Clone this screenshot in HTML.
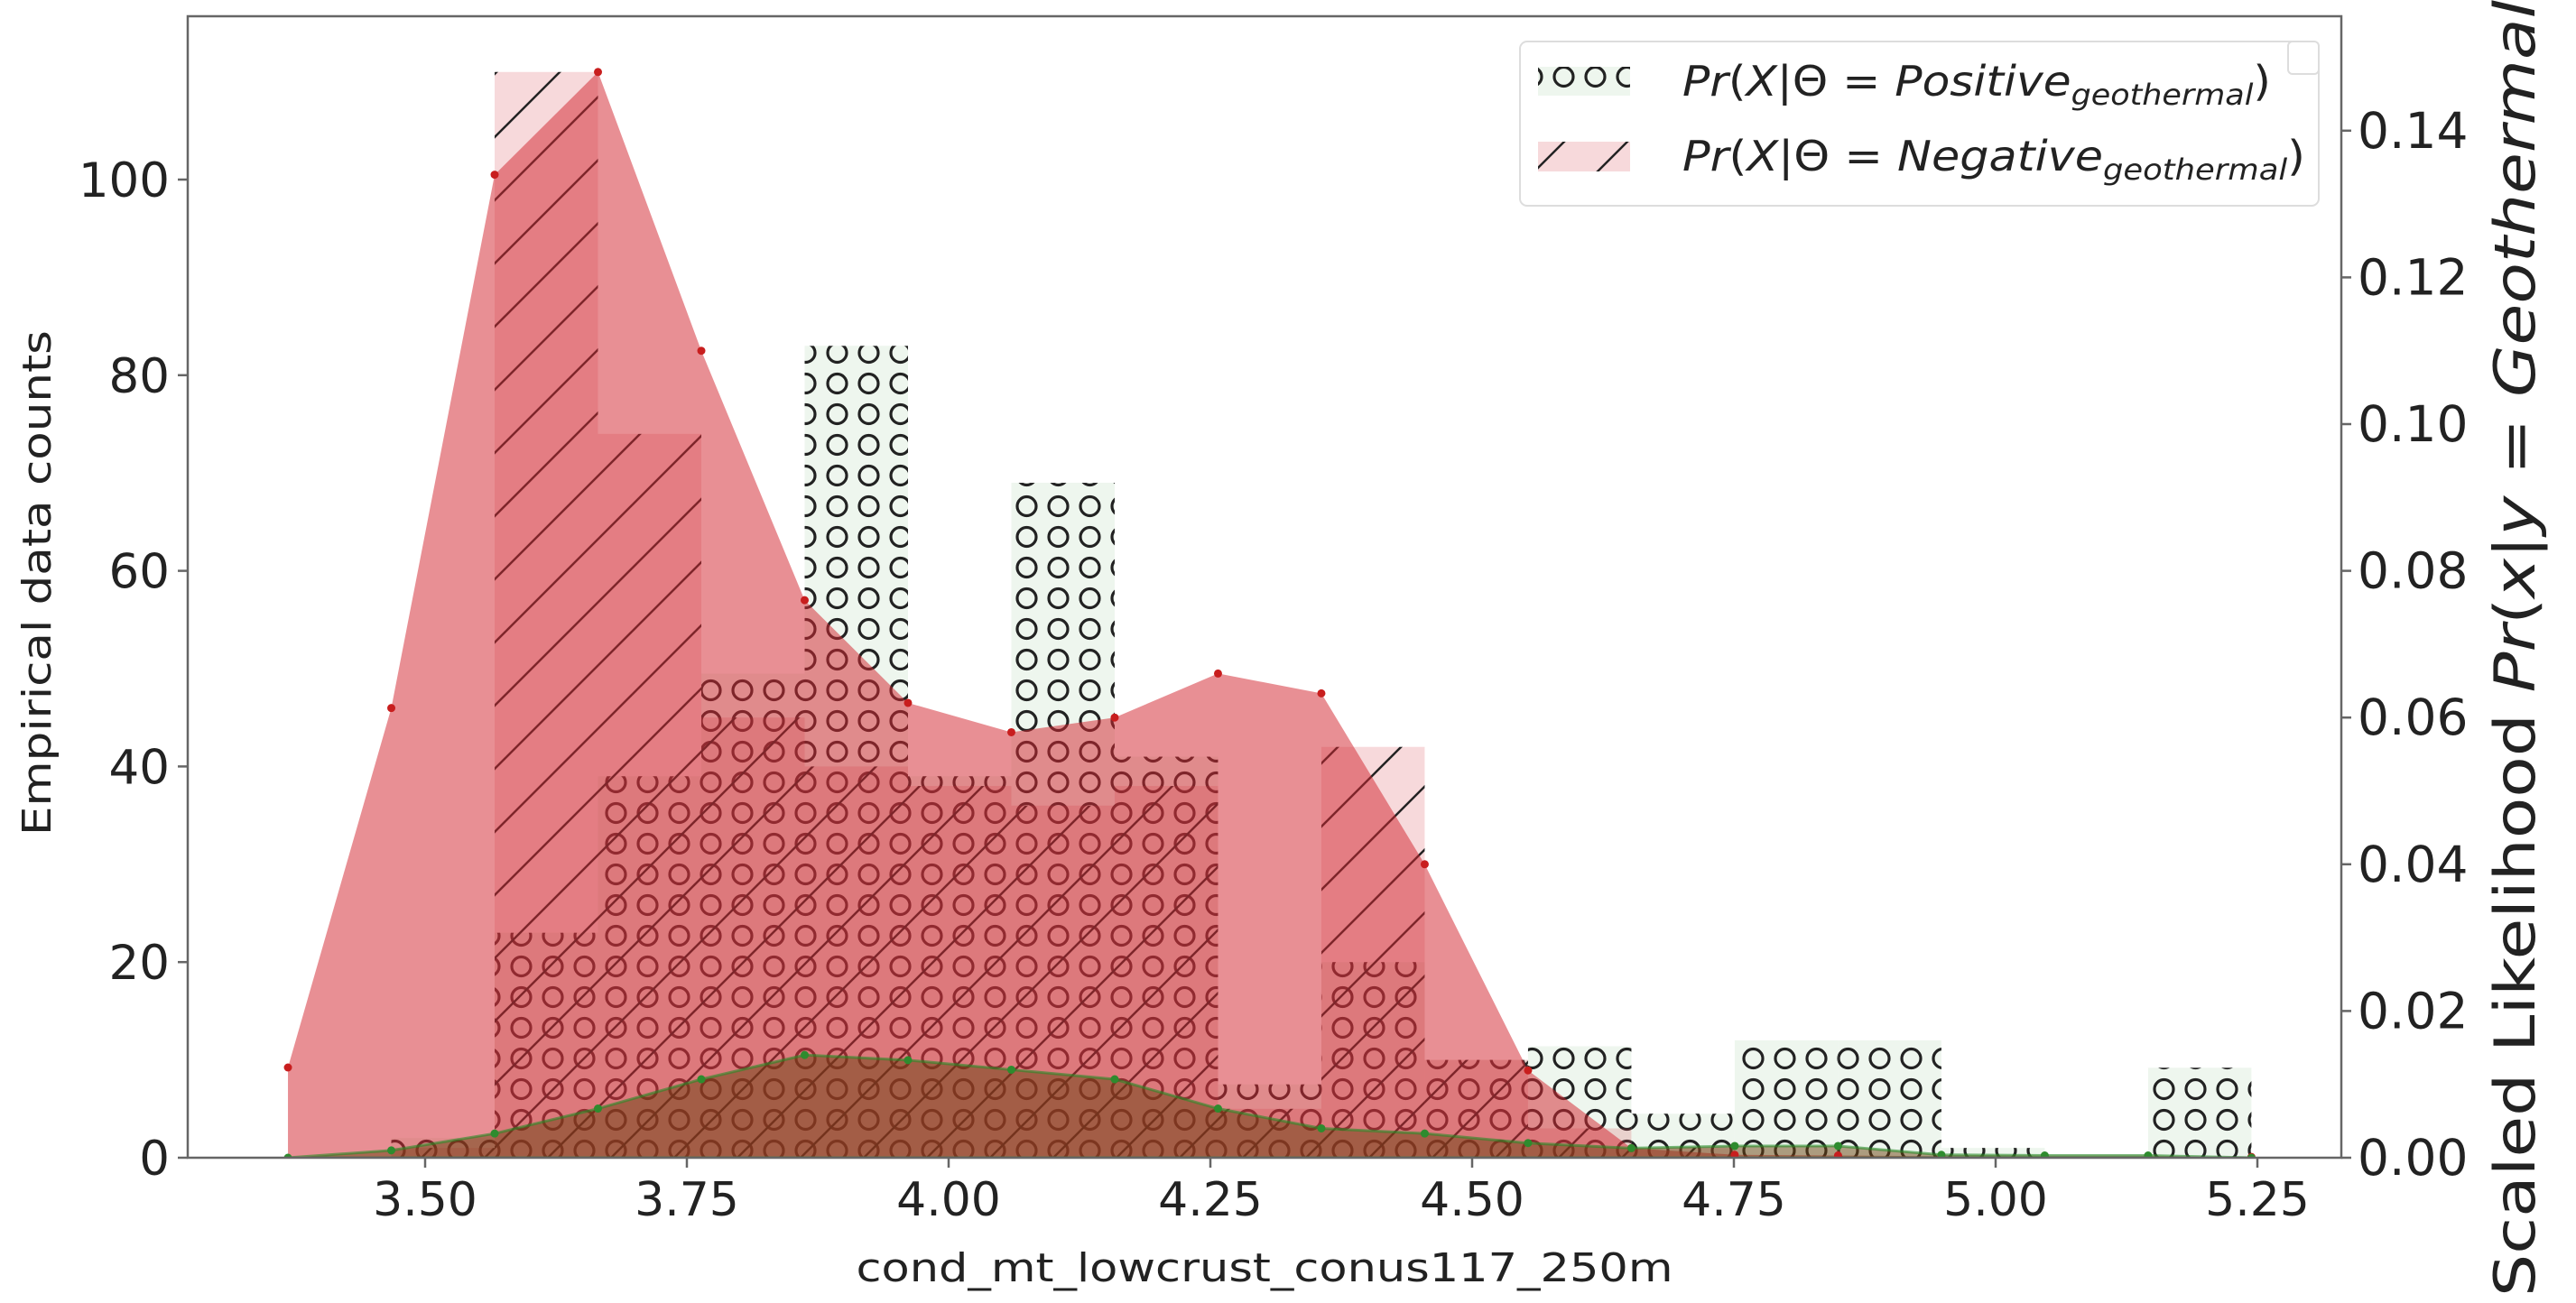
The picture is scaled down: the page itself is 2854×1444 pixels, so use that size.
<!DOCTYPE html>
<html><head><meta charset="utf-8">
<style>
html,body{margin:0;padding:0;background:#fff;}
svg{display:block;font-family:"DejaVu Sans","Liberation Sans",sans-serif;}
</style></head>
<body>
<svg id="chart" width="2854" height="1444" viewBox="0 0 2854 1444" xmlns="http://www.w3.org/2000/svg">
<defs>
  <pattern id="hatchO" patternUnits="userSpaceOnUse" width="35" height="34">
    <circle cx="17.5" cy="17" r="10.5" fill="none" stroke="#222" stroke-width="3.2"/>
  </pattern>
  <pattern id="hatchSlash" patternUnits="userSpaceOnUse" width="70" height="70">
    <line x1="0" y1="70" x2="70" y2="0" stroke="#222" stroke-width="2.5"/>
    <line x1="-10" y1="10" x2="10" y2="-10" stroke="#222" stroke-width="2.5"/>
    <line x1="60" y1="80" x2="80" y2="60" stroke="#222" stroke-width="2.5"/>
  </pattern>
  <clipPath id="plotClip"><rect x="208" y="18" width="2386" height="1265"/></clipPath>
</defs>
<g id="plot" clip-path="url(#plotClip)"></g>
<g id="axes"></g>
</svg>
<script>
// ---- data ----
const binEdgeStart = 3.369;
const binWidth = 0.0987;
const posCounts = [0, 2, 23, 39, 49.5, 83, 39, 69, 41, 7.5, 20, 10, 11.4, 4.5, 12, 12, 1, 0, 9.2];
const negCounts = [0, 1, 111, 74, 45, 40, 38, 36, 38, 5, 42, 10, 3, 1, 0, 0, 0, 0, 0];
const negLik = [0.0123, 0.0613, 0.134, 0.148, 0.110, 0.076, 0.062, 0.058, 0.060, 0.066, 0.0633, 0.040, 0.0119, 0.0013, 0.0004, 0.0003, 0.0002, 0.0001, 0.0001, 0.0001];
const posLik = [0.0, 0.0010, 0.0033, 0.0067, 0.0107, 0.0140, 0.0133, 0.0120, 0.0107, 0.0067, 0.0040, 0.0033, 0.0020, 0.0013, 0.0016, 0.0016, 0.0004, 0.0003, 0.0003, 0.0];
const xTicks = [3.50, 3.75, 4.00, 4.25, 4.50, 4.75, 5.00, 5.25];
const yTicksLeft = [0, 20, 40, 60, 80, 100];
const yTicksRight = [0.00, 0.02, 0.04, 0.06, 0.08, 0.10, 0.12, 0.14];

// ---- scales ----
const X0 = 208, X1 = 2594, Y0 = 1283, Y1 = 18;
function xs(v){ return 471 + (v - 3.5) * 1160; }
function yl(c){ return Y0 - c * 10.84; }
function yr(p){ return Y0 - p * (162.6 / 0.02); }

const NS = 'http://www.w3.org/2000/svg';
const plot = document.getElementById('plot');
const axes = document.getElementById('axes');
function mk(tag, attrs, parent){
  const e = document.createElementNS(NS, tag);
  for (const k in attrs) e.setAttribute(k, attrs[k]);
  parent.appendChild(e);
  return e;
}

posCounts.forEach((c, i) => {
  if (c <= 0) return;
  const xa = xs(binEdgeStart + i * binWidth), xb = xs(binEdgeStart + (i + 1) * binWidth);
  const g = mk('g', {}, plot);
  
  
  mk('rect', {x: xa, y: yl(c), width: xb - xa, height: Y0 - yl(c), fill: '#eef6ee'}, g);
  mk('rect', {x: xa, y: yl(c), width: xb - xa, height: Y0 - yl(c), fill: 'url(#hatchO)'}, g);
});
negCounts.forEach((c, i) => {
  if (c <= 0) return;
  const xa = xs(binEdgeStart + i * binWidth), xb = xs(binEdgeStart + (i + 1) * binWidth);
  const g = mk('g', {}, plot);
  
  
  mk('rect', {x: xa, y: yl(c), width: xb - xa, height: Y0 - yl(c), fill: 'rgba(220,80,90,0.22)'}, g);
  mk('rect', {x: xa, y: yl(c), width: xb - xa, height: Y0 - yl(c), fill: 'url(#hatchSlash)'}, g);
});

function area(vals){
  const n = vals.length;
  let d = 'M' + xs(binEdgeStart) + ',' + Y0;
  vals.forEach((v, i) => { d += ' L' + xs(binEdgeStart + i * binWidth) + ',' + yr(v); });
  d += ' L' + xs(binEdgeStart + (n - 1) * binWidth) + ',' + Y0 + ' Z';
  return d;
}
const negArea = mk('path', {d: area(negLik), fill: 'rgba(210,40,50,0.52)', stroke: 'none'}, plot);


const posArea = mk('path', {d: area(posLik), fill: 'rgba(105,65,15,0.5)', stroke: 'rgba(40,140,40,0.6)', 'stroke-width': 3}, plot);


negLik.forEach((v, i) => {
  const c = mk('circle', {cx: xs(binEdgeStart + i * binWidth), cy: yr(v), r: 4.5, fill: '#c81e1e'}, plot);
  
  
});
posLik.forEach((v, i) => {
  const c = mk('circle', {cx: xs(binEdgeStart + i * binWidth), cy: yr(v), r: 4.5, fill: '#2e8b2e'}, plot);
  
  
});

const frame = mk('rect', {x: X0, y: Y1, width: X1 - X0, height: Y0 - Y1, fill: 'none', stroke: '#666', 'stroke-width': 2.5}, axes);



xTicks.forEach(t => {
  const x = xs(t);
  mk('line', {x1: x, y1: Y0, x2: x, y2: Y0 + 11, stroke: '#666', 'stroke-width': 2.5}, axes);
  const tx = mk('text', {x: x, y: 1347, 'font-size': 52, 'text-anchor': 'middle', fill: '#222'}, axes);
  tx.textContent = t.toFixed(2);
  
  
});
yTicksLeft.forEach(t => {
  const y = yl(t);
  mk('line', {x1: X0 - 11, y1: y, x2: X0, y2: y, stroke: '#666', 'stroke-width': 2.5}, axes);
  const tx = mk('text', {x: 188, y: y + 19, 'font-size': 53, 'text-anchor': 'end', fill: '#222'}, axes);
  tx.textContent = String(t);
  
  
});
yTicksRight.forEach(t => {
  const y = yr(t);
  mk('line', {x1: X1, y1: y, x2: X1 + 11, y2: y, stroke: '#666', 'stroke-width': 2.5}, axes);
  const tx = mk('text', {x: 2612, y: y + 19, 'font-size': 55, 'text-anchor': 'start', fill: '#222'}, axes);
  tx.textContent = t.toFixed(2);
  
  
});
</script>
<svg style="position:absolute;left:0;top:0" width="2854" height="1444" xmlns="http://www.w3.org/2000/svg" font-family="DejaVu Sans, Liberation Sans, sans-serif">
  <text x="1401" y="1420" font-size="44" text-anchor="middle" textLength="905" lengthAdjust="spacingAndGlyphs" fill="#222">cond_mt_lowcrust_conus117_250m</text>
  <text transform="translate(56,646) rotate(-90)" font-size="44" text-anchor="middle" textLength="560" lengthAdjust="spacingAndGlyphs" fill="#222">Empirical data counts</text>
  <text transform="translate(2808,1437) rotate(-90) scale(1.2,1)" font-size="62" text-anchor="start" fill="#222">Scaled Likelihood  <tspan font-style="italic">Pr</tspan>(<tspan font-style="italic">x</tspan>|<tspan font-style="italic">y</tspan> = <tspan font-style="italic">Geothermal</tspan><tspan font-size="42" dy="12" font-style="italic">negative</tspan></text>
  <g>
    <rect x="1684" y="46" width="885" height="182" rx="8" fill="rgba(255,255,255,0.9)" stroke="#ddd" stroke-width="2"/>
    <rect x="2535" y="46" width="34" height="36" rx="5" fill="#fff" stroke="#ddd" stroke-width="2"/>
    <g>
      <rect x="1704" y="74" width="102" height="32" fill="#eef6ee"/>
      <rect x="1704" y="74" width="102" height="32" fill="url(#hatchO)"/>
      <text x="1864" y="106" font-size="46" fill="#222" textLength="652" lengthAdjust="spacingAndGlyphs"><tspan font-style="italic">Pr</tspan>(<tspan font-style="italic">X</tspan>|Θ = <tspan font-style="italic">Positive</tspan><tspan font-size="32" dy="10" font-style="italic">geothermal</tspan><tspan dy="-10">)</tspan></text>
    </g>
    <g>
      <rect x="1704" y="157" width="102" height="33" fill="rgba(220,80,90,0.22)"/>
      <rect x="1704" y="157" width="102" height="33" fill="url(#hatchSlash)"/>
      <text x="1864" y="189" font-size="46" fill="#222" textLength="690" lengthAdjust="spacingAndGlyphs"><tspan font-style="italic">Pr</tspan>(<tspan font-style="italic">X</tspan>|Θ = <tspan font-style="italic">Negative</tspan><tspan font-size="32" dy="10" font-style="italic">geothermal</tspan><tspan dy="-10">)</tspan></text>
    </g>
  </g>
</svg>
</body></html>
